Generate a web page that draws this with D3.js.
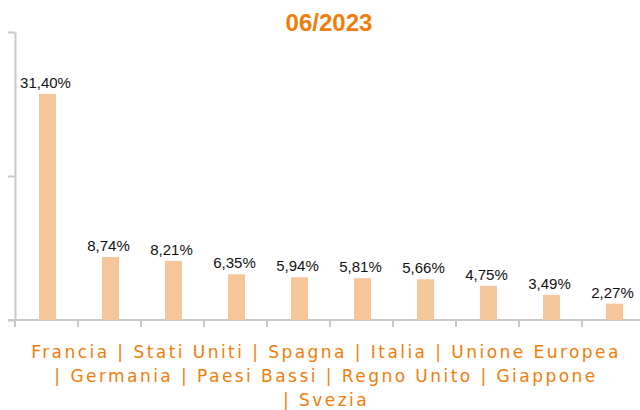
<!DOCTYPE html>
<html lang="it">
<head>
<meta charset="UTF-8">
<title>06/2023</title>
<script src="https://cdn.jsdelivr.net/npm/d3@7"></script>
<style>
    body { margin: 0; background: #fff; }
    .axis line, .axis path { stroke: #c8c8c8; stroke-width: 2px; }
    text.value { font-family: "Liberation Sans", Arial, sans-serif; font-size: 15px; fill: #111; }
    text.title { font-family: "Liberation Sans", Arial, sans-serif; font-size: 24px; font-weight: bold; fill: #f07d0a; }
    text.cats { font-family: "DejaVu Sans", Verdana, sans-serif; font-size: 17px; fill: #f07d0a; letter-spacing: 2.45px; }
</style>
</head>
<body>
<div id="chart"></div>
<script>
    var countries = ["Francia", "Stati Uniti", "Spagna", "Italia", "Unione Europea",
        "Germania", "Paesi Bassi", "Regno Unito", "Giappone", "Svezia"];
    var shares = [31.40, 8.74, 8.21, 6.35, 5.94, 5.81, 5.66, 4.75, 3.49, 2.27];
    var yTicks = [0, 20, 40];
    var title = "06/2023";

    var width = 640, height = 410;

    var svg = d3.select("#chart").append("svg")
        .attr("width", width)
        .attr("height", height);

    var x = d3.scaleBand()
        .domain(countries)
        .range([15, 645]);

    var y = d3.scaleLinear()
        .domain([0, 40])
        .range([320, 32]);

    var fmt = function (v) { return v.toFixed(2).replace(".", ",") + "%"; };

    // y axis
    svg.append("g")
        .attr("class", "axis")
        .attr("transform", "translate(15,0)")
        .call(d3.axisLeft(y).tickValues(yTicks).tickSize(7).tickSizeOuter(0).tickFormat(""))
        .call(function (g) { g.selectAll("text").remove(); });

    // x axis: ticks at band boundaries
    var xa = svg.append("g").attr("class", "axis");
    xa.append("line")
        .attr("x1", 8).attr("x2", width)
        .attr("y1", y(0)).attr("y2", y(0));
    xa.selectAll("line.tick")
        .data(countries)
        .enter().append("line")
        .attr("class", "tick")
        .attr("x1", function (d) { return x(d); })
        .attr("x2", function (d) { return x(d); })
        .attr("y1", y(0))
        .attr("y2", y(0) + 7);

    var barW = 17;
    svg.append("g")
        .selectAll("rect")
        .data(countries)
        .enter().append("rect")
        .attr("x", function (d) { return x(d) + 24; })
        .attr("y", function (d, i) { return y(shares[i]); })
        .attr("width", barW)
        .attr("height", function (d, i) { return y(0) - y(shares[i]); })
        .attr("fill", "#f6c69b");

    svg.append("g")
        .selectAll("text")
        .data(countries)
        .enter().append("text")
        .attr("class", "value")
        .attr("text-anchor", "middle")
        .attr("x", function (d) { return x(d) + 24 + barW / 2 - 2; })
        .attr("y", function (d, i) { return y(shares[i]) - 6; })
        .text(function (d, i) { return fmt(shares[i]); });

    svg.append("text")
        .attr("class", "title")
        .attr("text-anchor", "middle")
        .attr("x", 329)
        .attr("y", 31)
        .text(title);

    // category list, wrapped
    var cats = svg.append("text")
        .attr("class", "cats")
        .attr("text-anchor", "middle");
    var words = countries.map(function (c, i) { return i === 0 ? c : "| " + c; });
    var lines = [[]];
    var probe = svg.append("text").attr("class", "cats");
    words.forEach(function (w) {
        var cur = lines[lines.length - 1];
        probe.text(cur.concat([w]).join(" "));
        if (cur.length && probe.node().getComputedTextLength() > 615) lines.push([w]);
        else cur.push(w);
    });
    probe.remove();
    cats.selectAll("tspan")
        .data(lines)
        .enter().append("tspan")
        .attr("x", 326)
        .attr("y", function (d, i) { return 358 + i * 24; })
        .text(function (d) { return d.join(" "); });
</script>
</body>
</html>
